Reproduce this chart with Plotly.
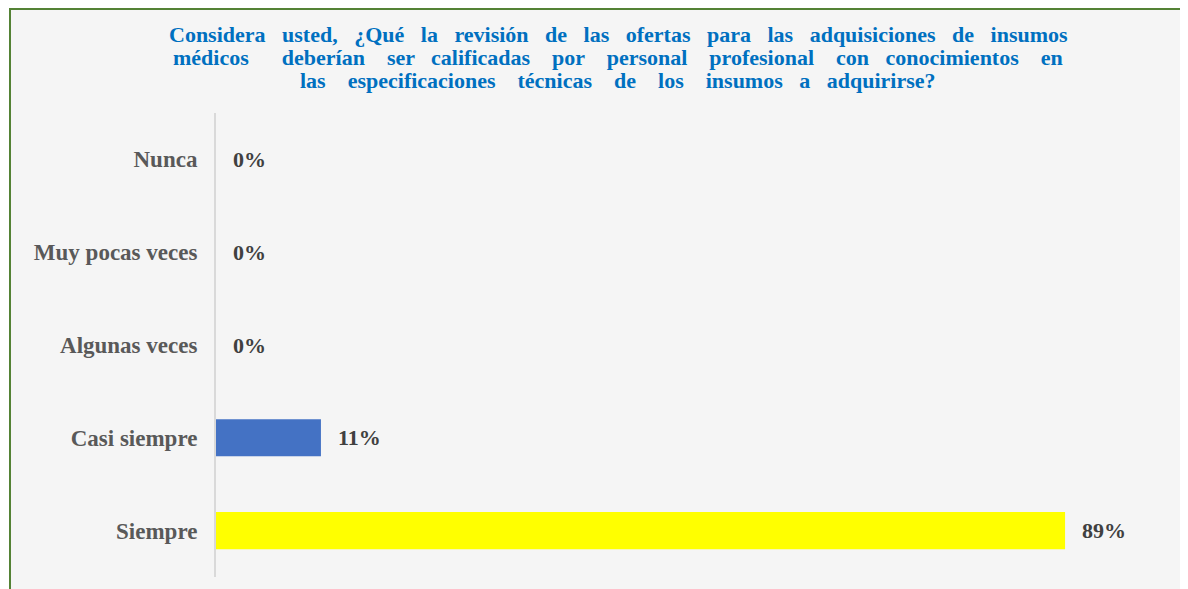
import plotly.graph_objects as go

categories = ["Nunca", "Muy pocas veces", "Algunas veces", "Casi siempre", "Siempre"]
values = [0, 0, 0, 11, 89]
bar_colors = ["#4472C4", "#4472C4", "#4472C4", "#4472C4", "#FFFF00"]
value_labels = ["0%", "0%", "0%", "11%", "89%"]

title_lines = [
    "Considera   usted,   ¿Qué   la   revisión   de   las   ofertas   para   las   adquisiciones   de   insumos",
    "médicos      deberían    ser   calificadas    por    personal    profesional    con   conocimientos    en",
    "las    especificaciones    técnicas    de    los    insumos   a   adquirirse?",
]
title_line_y = [35, 58, 80]  # page pixel centres of the title lines

OFF = 8  # page body margin
W, H = 1188 - OFF, 589 - OFF
L, R, T, B = 216 - OFF, 18, 113 - OFF, 12
pw, ph = W - L - R, H - T - B

def px_x(x):
    return (x - OFF - L) / pw

def px_y(y):
    return 1 - (y - OFF - T) / ph

fig = go.Figure()
fig.add_trace(go.Bar(
    x=values, y=categories, orientation="h",
    marker=dict(color=bar_colors, line=dict(width=0)),
    width=0.4, hoverinfo="skip",
))

for v, c, t in zip(values, categories, value_labels):
    fig.add_annotation(x=v, y=c, xref="x", yref="y", text=t, showarrow=False,
                       xanchor="left", xshift=15,
                       font=dict(family="Liberation Serif", size=22, color="#404040", weight="bold"))

for line, yy in zip(title_lines, title_line_y):
    fig.add_annotation(x=px_x(618), y=px_y(yy), xref="paper", yref="paper", text=line,
                       showarrow=False, xanchor="center", yanchor="middle",
                       font=dict(family="Liberation Serif", size=22, color="#0070C0", weight="bold"))

# frame
fig.add_shape(type="rect", xref="paper", yref="paper",
              x0=px_x(10), x1=1.2, y0=-0.2, y1=px_y(9),
              fillcolor="#F5F5F5", line=dict(color="#548235", width=2), layer="below")

fig.update_layout(
    width=W, height=H,
    margin=dict(l=L, r=R, t=T, b=B),
    paper_bgcolor="white", plot_bgcolor="rgba(0,0,0,0)",
    showlegend=False,
    font=dict(family="Liberation Serif"),
    bargap=0.6,
)
fig.update_xaxes(range=[0, 100], visible=False, fixedrange=True)
fig.update_yaxes(autorange="reversed", showline=True, linecolor="#D9D9D9", linewidth=2,
                 showgrid=False, zeroline=False, ticks="", ticklabelstandoff=12,
                 tickfont=dict(family="Liberation Serif", size=23, color="#595959", weight="bold"))

fig.write_html("out.html")
